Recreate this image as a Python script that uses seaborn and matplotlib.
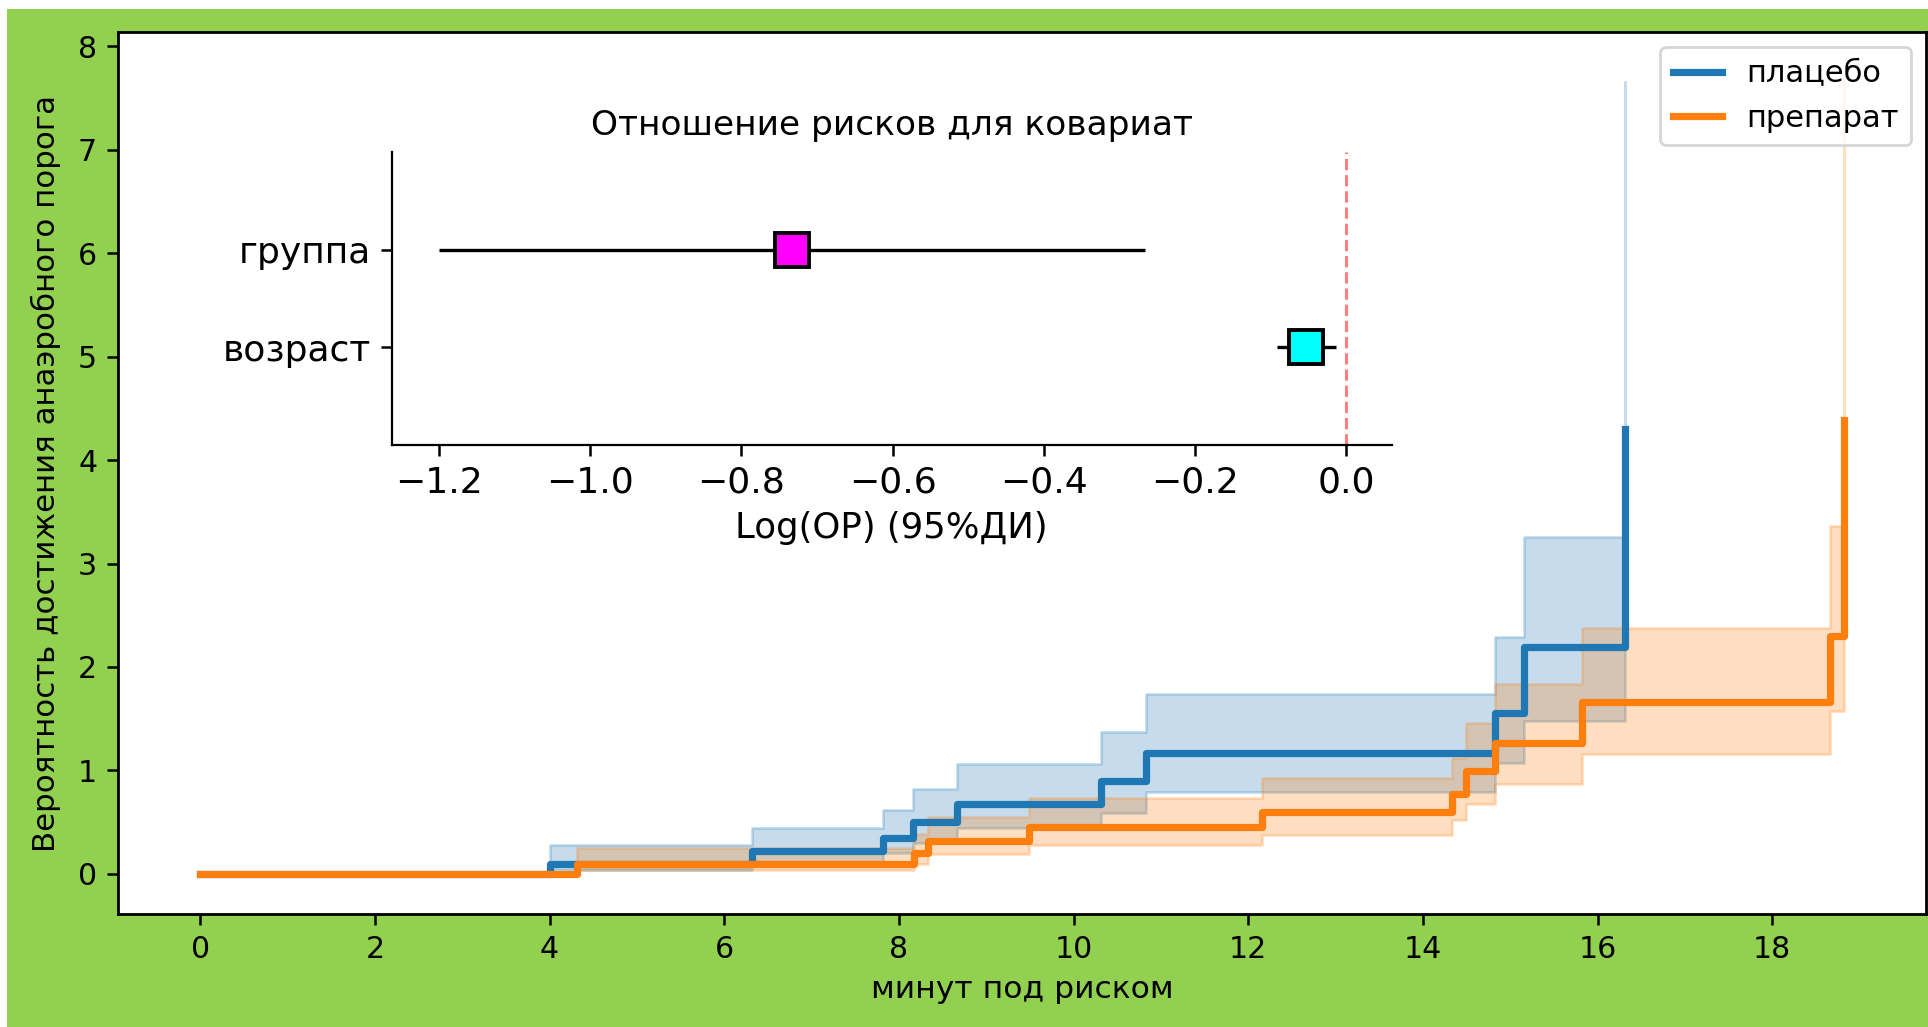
import numpy as np
import pandas as pd
import matplotlib
matplotlib.use("Agg")
import matplotlib.pyplot as plt
from matplotlib.patches import Rectangle
import seaborn as sns

# ---- data: cumulative hazard (placebo) ----
t_placebo = [0, 4.0, 6.32, 7.82, 8.16, 8.67, 10.32, 10.83, 14.83, 15.16, 16.32]
h_placebo = [0, 0.10, 0.22, 0.35, 0.50, 0.68, 0.90, 1.17, 1.56, 2.19, 4.30]
up_placebo = [0, 0.28, 0.44, 0.62, 0.82, 1.06, 1.37, 1.74, 2.29, 3.26, 7.65]
lo_placebo = [0, 0.036, 0.11, 0.20, 0.30, 0.44, 0.59, 0.79, 1.07, 1.48, 2.42]

# ---- data: cumulative hazard (drug) ----
t_drug = [0, 4.32, 8.17, 8.33, 9.49, 12.16, 14.33, 14.49, 14.83, 15.82, 18.66, 18.82]
h_drug = [0, 0.10, 0.20, 0.32, 0.45, 0.60, 0.77, 0.99, 1.27, 1.66, 2.30, 4.39]
up_drug = [0, 0.25, 0.39, 0.55, 0.73, 0.93, 1.12, 1.46, 1.84, 2.38, 3.36, 7.75]
lo_drug = [0, 0.04, 0.10, 0.19, 0.28, 0.38, 0.52, 0.68, 0.87, 1.16, 1.57, 2.49]

group_labels = ["плацебо", "препарат"]

# ---- data: Cox model log(HR) ----
covariates = ["возраст", "группа"]
log_hr = [-0.053, -0.733]
log_hr_lo = [-0.092, -1.200]
log_hr_hi = [-0.013, -0.266]
cov_colors = ["cyan", "magenta"]

x_ticks = list(range(0, 19, 2))
y_ticks = list(range(0, 9))

DPI = 200
fig = plt.figure(figsize=(1928 / DPI, 1027 / DPI), dpi=DPI)
fig.patch.set_facecolor("white")
fig.patches.append(Rectangle((7 / 1928, 0), 1 - 7 / 1928, 1 - 9 / 1027,
                             transform=fig.transFigure, facecolor="#92D050",
                             edgecolor="none", zorder=-10))

ax = fig.add_axes([118 / 1928, 1 - 914 / 1027, (1926 - 118) / 1928, (914 - 32) / 1027])
ax.set_facecolor("white")

c_blue, c_orange = "#1f77b4", "#ff7f0e"
series = [
    (t_placebo, h_placebo, lo_placebo, up_placebo, c_blue, group_labels[0]),
    (t_drug, h_drug, lo_drug, up_drug, c_orange, group_labels[1]),
]
for t, h, lo, up, col, lab in series:
    df = pd.DataFrame({"t": t, "h": h})
    sns.lineplot(data=df, x="t", y="h", drawstyle="steps-post", color=col,
                 lw=2.6, label=lab, ax=ax, estimator=None, sort=False)
    ax.fill_between(t, lo, up, step="post", color=col, alpha=0.25, lw=1.0)

ax.set_xticks(x_ticks)
ax.set_yticks(y_ticks)
ax.tick_params(labelsize=10.8, width=0.9, length=4)
for s in ax.spines.values():
    s.set_linewidth(1.0)
ax.set_xlabel("минут под риском", fontsize=11.3)
ax.set_ylabel("Вероятность достижения анаэробного порога", fontsize=11.1, labelpad=6)
ax.legend(loc="upper right", fontsize=11, handlelength=1.6)

# ---- inset forest plot ----
ax_in = fig.add_axes([391.5 / 1928, 1 - 445 / 1027, (1391.5 - 391.5) / 1928, (445 - 152) / 1027])
ax_in.set_facecolor("white")
for i, cov in enumerate(covariates):
    ax_in.errorbar(log_hr[i], i,
                   xerr=[[log_hr[i] - log_hr_lo[i]], [log_hr_hi[i] - log_hr[i]]],
                   fmt="s", color="black", markerfacecolor=cov_colors[i],
                   markeredgecolor="black", markersize=12, markeredgewidth=1.4,
                   elinewidth=1.2, capsize=0)
ax_in.axvline(0, color="red", alpha=0.5, ls="--", lw=1.1)
ax_in.set_ylim(-1, len(covariates))
ax_in.set_xlim(-1.263, 0.060)
ax_in.set_yticks(range(len(covariates)))
ax_in.set_yticklabels(covariates)
ax_in.spines["top"].set_visible(False)
ax_in.spines["right"].set_visible(False)
ax_in.tick_params(labelsize=13, width=0.9, length=4)
ax_in.set_xlabel("Log(OP) (95%ДИ)", fontsize=12.8)
ax_in.set_title("Отношение рисков для ковариат", fontsize=12.4)

fig.savefig("out.png", dpi=DPI, facecolor=fig.get_facecolor())
